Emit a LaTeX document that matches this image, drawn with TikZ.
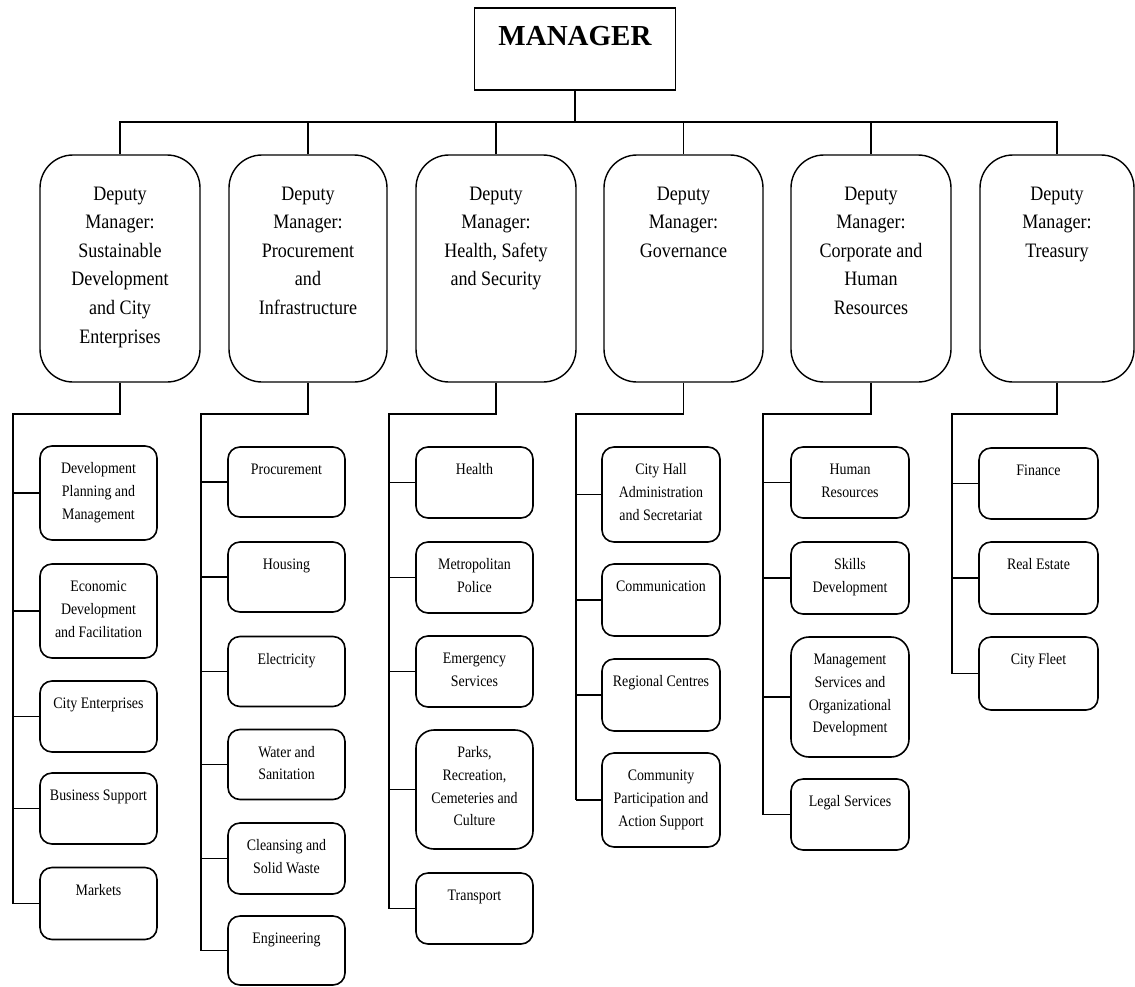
\documentclass[tikz,border=0pt]{standalone}
\usepackage{fontspec}
\setmainfont{Liberation Serif}
\newfontfamily\depfont[FakeStretch=0.88]{Liberation Serif}
\newfontfamily\subfont[FakeStretch=0.87]{Liberation Serif}
\newcommand\mgrtext[1]{\parbox[c][82pt][t]{195pt}{\centering\bfseries\fontsize{29}{35}\selectfont\vspace*{12.5pt}\strut #1\par}}
\newcommand\deptext[2]{\parbox[c][227pt][t]{#1pt}{\centering\depfont\fontsize{20.5}{28.6}\selectfont\vspace*{25pt}\strut #2\par}}
\newcommand\subtext[2]{\parbox[c][#1pt][t]{110pt}{\centering\subfont\fontsize{16}{22.6}\selectfont\vspace*{12pt}\strut #2\par}}
\begin{document}
\begin{tikzpicture}[x=1pt,y=-1pt,
  mgr/.style={draw, line width=1.1pt, inner sep=0pt, minimum width=201pt},
  dep/.style={draw, line width=1.4pt, rounded corners=33pt, inner sep=0pt},
  sub/.style={draw, line width=1.6pt, rounded corners=12pt, inner sep=0pt, minimum width=117pt},
  conn/.style={line width=1.5pt}]
\useasboundingbox (0,0) rectangle (1135,986);
% manager
\node[mgr] (mgr) at (575,49) {\mgrtext{MANAGER}};
% deputies
\node[dep] (d1) at (120,268.5) {\deptext{160}{Deputy\\Manager:\\Sustainable\\Development\\and City\\Enterprises}};
\node[dep] (d2) at (308,268.5) {\deptext{158}{Deputy\\Manager:\\Procurement\\and\\Infrastructure}};
\node[dep] (d3) at (496,268.5) {\deptext{160}{Deputy\\Manager:\\Health, Safety\\and Security}};
\node[dep] (d4) at (683.5,268.5) {\deptext{159}{Deputy\\Manager:\\Governance}};
\node[dep] (d5) at (871,268.5) {\deptext{160}{Deputy\\Manager:\\Corporate and\\Human\\Resources}};
\node[dep] (d6) at (1057,268.5) {\deptext{154}{Deputy\\Manager:\\Treasury}};
% column 1
\node[sub] (c1a) at (98.5,493) {\subtext{94}{Development\\Planning and\\Management}};
\node[sub] (c1b) at (98.5,611) {\subtext{94}{Economic\\Development\\and Facilitation}};
\node[sub] (c1c) at (98.5,716.5) {\subtext{71}{City Enterprises}};
\node[sub] (c1d) at (98.5,808.5) {\subtext{71}{Business Support}};
\node[sub] (c1e) at (98.5,903.5) {\subtext{72}{Markets}};
% column 2
\node[sub] (c2a) at (286.5,482) {\subtext{70}{Procurement}};
\node[sub] (c2b) at (286.5,577) {\subtext{70}{Housing}};
\node[sub] (c2c) at (286.5,671.5) {\subtext{70}{Electricity}};
\node[sub] (c2d) at (286.5,764.5) {\subtext{70}{Water and\\Sanitation}};
\node[sub] (c2e) at (286.5,858.5) {\subtext{71}{Cleansing and\\Solid Waste}};
\node[sub] (c2f) at (286.5,950.5) {\subtext{69}{Engineering}};
% column 3
\node[sub] (c3a) at (474.5,482.5) {\subtext{71}{Health}};
\node[sub] (c3b) at (474.5,577.5) {\subtext{71}{Metropolitan\\Police}};
\node[sub] (c3c) at (474.5,671.5) {\subtext{71}{Emergency\\Services}};
\node[sub, rounded corners=18pt] (c3d) at (474.5,789.5) {\subtext{119}{Parks,\\Recreation,\\Cemeteries and\\Culture}};
\node[sub] (c3e) at (474.5,908.5) {\subtext{71}{Transport}};
% column 4
\node[sub, minimum width=118pt] (c4a) at (661,494.5) {\subtext{95}{City Hall\\Administration\\and Secretariat}};
\node[sub, minimum width=118pt] (c4b) at (661,600) {\subtext{72}{Communication}};
\node[sub, minimum width=118pt] (c4c) at (661,695) {\subtext{72}{Regional Centres}};
\node[sub, minimum width=118pt] (c4d) at (661,800) {\subtext{94}{Community\\Participation and\\Action Support}};
% column 5
\node[sub, minimum width=118pt] (c5a) at (850,482.5) {\subtext{71}{Human\\Resources}};
\node[sub, minimum width=118pt] (c5b) at (850,578) {\subtext{72}{Skills\\Development}};
\node[sub, minimum width=118pt, rounded corners=18pt] (c5c) at (850,697) {\subtext{120}{Management\\Services and\\Organizational\\Development}};
\node[sub, minimum width=118pt] (c5d) at (850,814.5) {\subtext{71}{Legal Services}};
% column 6
\node[sub, minimum width=119pt] (c6a) at (1038.5,483.5) {\subtext{71}{Finance}};
\node[sub, minimum width=119pt] (c6b) at (1038.5,578) {\subtext{72}{Real Estate}};
\node[sub, minimum width=119pt] (c6c) at (1038.5,673.5) {\subtext{73}{City Fleet}};
% connectors top
\coordinate (bus) at (0,122);
\draw[conn] (mgr.south) -- (mgr.south |- bus);
\draw[conn] (d1.north) |- (d6.north |- bus) -- (d6.north);
\foreach \d in {d2,d3,d4,d5} \draw[conn] (\d.north) -- (\d.north |- bus);
% trunks
\coordinate (t1) at (13,414);
\coordinate (t2) at (201,414);
\coordinate (t3) at (389,414);
\coordinate (t4) at (576,414);
\coordinate (t5) at (763,414);
\coordinate (t6) at (952,414);
\draw[conn] (d1.south) |- (t1) -- (t1 |- c1e.west);
\draw[conn] (d2.south) |- (t2) -- (t2 |- c2f.west);
\draw[conn] (d3.south) |- (t3) -- (t3 |- c3e.west);
\draw[conn] (d4.south) |- (t4) -- (t4 |- c4d.west);
\draw[conn] (d5.south) |- (t5) -- (t5 |- c5d.west);
\draw[conn] (d6.south) |- (t6) -- (t6 |- c6c.west);
\foreach \c in {c1a,c1b,c1c,c1d,c1e} \draw[conn] (\c.west) -- (\c.west -| t1);
\foreach \c in {c2a,c2b,c2c,c2d,c2e,c2f} \draw[conn] (\c.west) -- (\c.west -| t2);
\foreach \c in {c3a,c3b,c3c,c3d,c3e} \draw[conn] (\c.west) -- (\c.west -| t3);
\foreach \c in {c4a,c4b,c4c,c4d} \draw[conn] (\c.west) -- (\c.west -| t4);
\foreach \c in {c5a,c5b,c5c,c5d} \draw[conn] (\c.west) -- (\c.west -| t5);
\foreach \c in {c6a,c6b,c6c} \draw[conn] (\c.west) -- (\c.west -| t6);
\end{tikzpicture}
\end{document}
